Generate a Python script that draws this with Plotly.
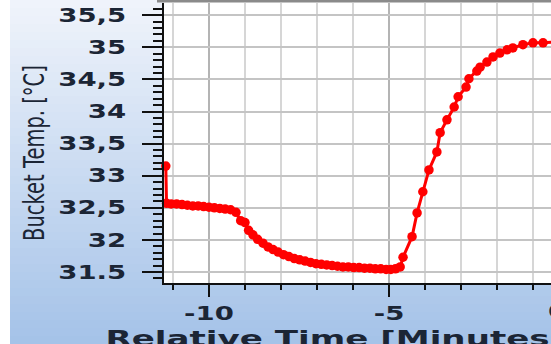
import plotly.graph_objects as go

# ---- data ----
time_min = [-11.2, -11.18, -11.05, -10.9, -10.75, -10.6, -10.45, -10.3, -10.15, -10.0,
            -9.85, -9.7, -9.55, -9.4, -9.25, -9.12, -9.0, -8.9, -8.78, -8.65,
            -8.5, -8.36, -8.22, -8.08, -7.93, -7.78, -7.63, -7.48, -7.33, -7.18,
            -7.03, -6.88, -6.73, -6.58, -6.43, -6.28, -6.13, -5.98, -5.83, -5.68,
            -5.53, -5.38, -5.23, -5.08, -4.95, -4.82, -4.69, -4.61, -4.36, -4.22,
            -4.06, -3.89, -3.67, -3.58, -3.39, -3.19, -3.08, -2.86, -2.78, -2.56,
            -2.47, -2.28, -2.11, -1.92, -1.72, -1.56, -1.28, -1.0, -0.72, -0.45]
bucket_temp = [33.15, 32.57, 32.56, 32.56, 32.55, 32.54, 32.53, 32.53, 32.52, 32.51,
               32.50, 32.49, 32.48, 32.47, 32.43, 32.30, 32.27, 32.15, 32.08, 32.01,
               31.95, 31.89, 31.85, 31.81, 31.77, 31.74, 31.71, 31.69, 31.67, 31.65,
               31.63, 31.62, 31.61, 31.60, 31.59, 31.58, 31.58, 31.57, 31.57, 31.56,
               31.56, 31.55, 31.55, 31.54, 31.54, 31.55, 31.58, 31.73, 32.05, 32.42,
               32.75, 33.09, 33.37, 33.67, 33.87, 34.07, 34.23, 34.38, 34.51, 34.63,
               34.69, 34.77, 34.85, 34.91, 34.96, 34.99, 35.04, 35.07, 35.07, 35.08]

y_tickvals = [31.5, 32, 32.5, 33, 33.5, 34, 34.5, 35, 35.5]
y_ticktext = ["31.5", "32", "32,5", "33", "33,5", "34", "34,5", "35", "35,5"]
x_tickvals = [-10, -5]
x_ticktext = ["-10", "-5"]

W, H = 551, 344
ML, MR, MT, MB = 164, 0, 3, 61
PW, PH = W - ML - MR, H - MT - MB

def px2x(px):
    return (px - ML) / PW

def py2y(py):
    return (H - MB - py) / PH

TXT = "#1b2535"

fig = go.Figure()
fig.add_trace(go.Scatter(
    x=time_min, y=bucket_temp, mode="lines+markers",
    line=dict(color="#ff0000", width=3),
    marker=dict(color="#ff0000", size=9.5),
    cliponaxis=False, showlegend=False,
))

# background gradient in the margins
def lerp(c1, c2, t):
    return "rgb(%d,%d,%d)" % tuple(round(a + (b - a) * t) for a, b in zip(c1, c2))

top_c = (240, 244, 251)
bot_c = (164, 194, 232)
shapes = []
n = 43
for i in range(n):
    y0p, y1p = i * H / n, (i + 1) * H / n
    col = lerp(top_c, bot_c, (i + 0.5) / n)
    shapes.append(dict(type="rect", xref="paper", yref="paper", layer="below",
                       x0=px2x(10), x1=px2x(ML), y0=py2y(y1p), y1=py2y(y0p),
                       line=dict(width=0), fillcolor=col))
    if y1p > H - MB:
        shapes.append(dict(type="rect", xref="paper", yref="paper", layer="below",
                           x0=px2x(ML), x1=px2x(W + 2), y0=py2y(y1p), y1=py2y(max(y0p, H - MB)),
                           line=dict(width=0), fillcolor=col))
shapes.append(dict(type="rect", xref="paper", yref="paper", layer="below",
                   x0=px2x(157), x1=px2x(W + 2), y0=py2y(2.5), y1=py2y(-1),
                   line=dict(width=0), fillcolor="#8a8a8a"))

fig.update_layout(
    width=W, height=H,
    margin=dict(l=ML, r=MR, t=MT, b=MB),
    paper_bgcolor="white", plot_bgcolor="white",
    shapes=shapes,
    xaxis=dict(
        range=[-11.25, -0.5], tickvals=x_tickvals, ticktext=x_ticktext,
        showline=True, linecolor="#111", linewidth=2,
        ticks="outside", ticklen=12, tickwidth=2, tickcolor="#111",
        tickfont=dict(family="DejaVu Sans", size=19, color=TXT, weight="bold"),
        showgrid=True, gridcolor="#b4b4b4", gridwidth=1.5,
        minor=dict(dtick=1, tick0=0, ticks="outside", ticklen=5, tickwidth=2, tickcolor="#111",
                   showgrid=True, gridcolor="#d6d6d6", gridwidth=1.5),
        zeroline=False, fixedrange=True,
    ),
    yaxis=dict(
        range=[31.329, 35.69], tickvals=y_tickvals, ticktext=y_ticktext,
        showline=True, linecolor="#111", linewidth=2,
        ticks="outside", ticklen=20, tickwidth=2, tickcolor="#111",
        ticklabelstandoff=12,
        tickfont=dict(family="DejaVu Sans", size=19, color=TXT, weight="bold"),
        showgrid=True, gridcolor="#c4c4c4", gridwidth=1.5,
        minor=dict(dtick=0.1, tick0=31.5, ticks="outside", ticklen=9, tickwidth=1.5, tickcolor="#111",
                   showgrid=False),
        zeroline=False, fixedrange=True,
    ),
    annotations=[
        dict(text="Relative Time [Minutes]", xref="paper", yref="paper",
             x=px2x(335), y=py2y(323.5), xanchor="center", yanchor="top", showarrow=False,
             font=dict(family="DejaVu Sans", size=22, color=TXT, weight="bold")),
        dict(text="0", xref="paper", yref="paper",
             x=px2x(557), y=py2y(298), xanchor="center", yanchor="top", showarrow=False,
             font=dict(family="DejaVu Sans", size=19, color=TXT, weight="bold")),
        dict(text="Bucket Temp. [°C]", xref="paper", yref="paper", textangle=-90,
             x=px2x(34), y=py2y(153), xanchor="center", yanchor="middle", showarrow=False,
             font=dict(family="DejaVu Sans", size=19.5, color=TXT)),
    ],
)

# the reference screenshot is horizontally stretched; widen the text glyphs to match
post = """
function stretchEl(t, s, mode) {
  var b = t.getBBox();
  var old = t.getAttribute('transform') || '';
  var tr;
  if (mode === 'y') {
    var cy = b.y + b.height / 2;
    tr = ' translate(0,' + cy + ') scale(1,' + s + ') translate(0,' + (-cy) + ')';
  } else {
    var a = t.getAttribute('text-anchor');
    var ax = a === 'end' ? b.x + b.width : (a === 'middle' ? b.x + b.width / 2 : b.x);
    tr = ' translate(' + ax + ',0) scale(' + s + ',1) translate(' + (-ax) + ',0)';
  }
  t.setAttribute('transform', old + tr);
}
function stretch(sel, s, mode) {
  document.querySelectorAll(sel).forEach(function (t) { stretchEl(t, s, mode); });
}
stretch('.xtick text', 1.45);
stretch('.ytick text', 1.45);
stretch('g.annotation[data-index="0"] .annotation-text', 1.55);
stretch('g.annotation[data-index="1"] .annotation-text', 1.45);
stretch('g.annotation[data-index="2"] .annotation-text', 1.45, 'y');
"""

fig.write_html("out.html", config={"displayModeBar": False}, post_script=post)
